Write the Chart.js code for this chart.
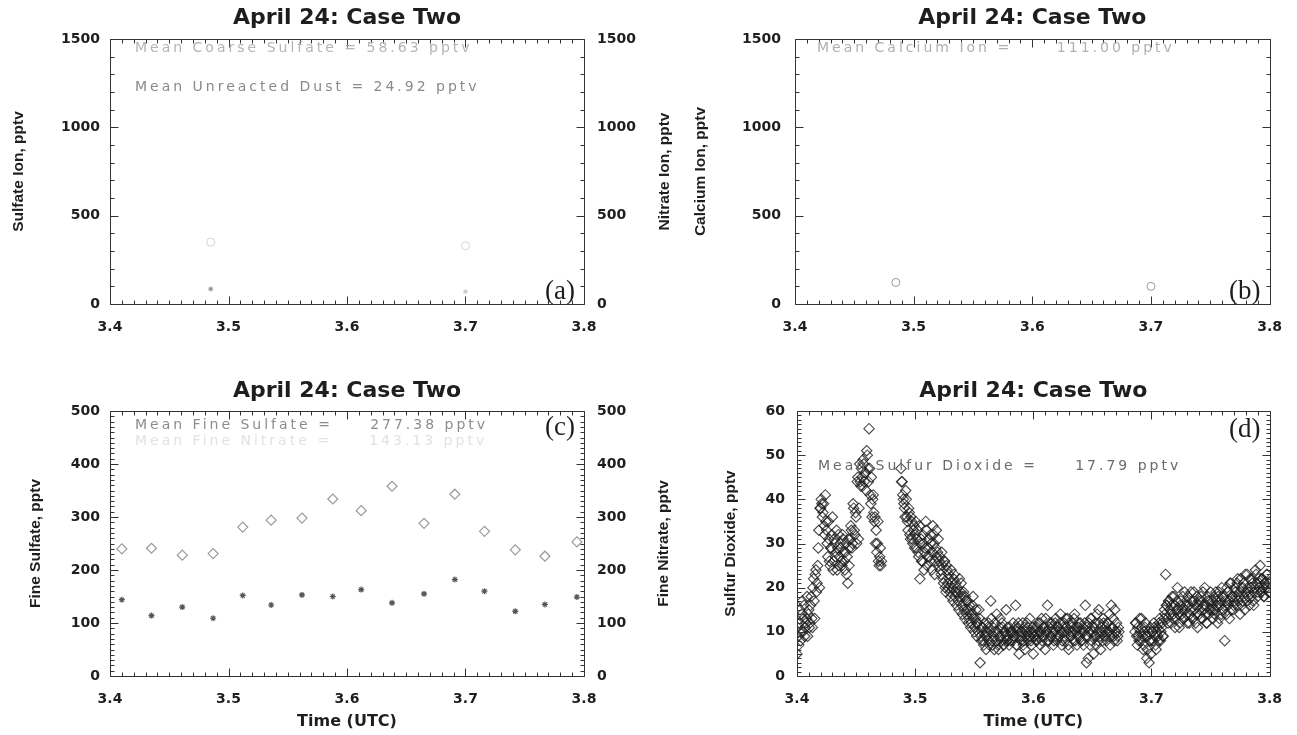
<!DOCTYPE html>
<html>
<head>
<meta charset="utf-8">
<title>April 24: Case Two</title>
<script src="https://cdn.jsdelivr.net/npm/chart.js@4.4.1/dist/chart.umd.min.js"></script>
<style>
  html, body { margin: 0; padding: 0; background: #fff; }
  #page { position: relative; width: 1297px; height: 735px; overflow: hidden; background: #fff; }
  canvas { position: absolute; }
</style>
</head>
<body>
<div id="page">
  <canvas id="chartA" width="690" height="360" style="left:0px;top:0px"></canvas>
  <canvas id="chartB" width="647" height="360" style="left:650px;top:0px"></canvas>
  <canvas id="chartC" width="690" height="375" style="left:0px;top:360px"></canvas>
  <canvas id="chartD" width="647" height="375" style="left:650px;top:360px"></canvas>
</div>
<script>
// coarse mode samples (panel a)
const coarseTimes = [3.485, 3.700];
const coarseSulfate = [350, 330];
const coarseNitrate = [85, 70];

// calcium (panel b)
const calciumTimes = [3.485, 3.700];
const calciumIon = [122, 100];

// fine mode samples (panel c)
const fineTimes = [3.410, 3.435, 3.461, 3.487, 3.512, 3.536, 3.562, 3.588, 3.612, 3.638, 3.665, 3.691, 3.716, 3.742, 3.767, 3.794];
const fineSulfate = [240, 241, 228, 231, 281, 294, 298, 334, 312, 358, 288, 343, 273, 238, 226, 253];
const fineNitrate = [144, 114, 130, 109, 152, 134, 153, 150, 163, 138, 155, 182, 160, 122, 135, 149];

// SO2: two interleaved reading sets, one per 0.001 h each,
// the second offset by half a step. null = no data
const so2Start = 3.400;
const so2Step = 0.001;
const so2ValuesA = [
  5, 9, 12, 8, 14, 10, 16, 11, 13, 9, 15,
  12, 18, 11, 22, 13, 24, 21,
  29, 20, 38, 39, 37, 34, 41,
  33, 27, 31, 25, 29, 36, 26, 30, 28, 24, 32, 27, 29, 25, 31, 26, 28, 23, 21, 25,
  31, 33, 30, 38, 32, 36, 44, 31, 48, 43,
  45, 49, 44, 46, 51, 47, 56, 41, 45, 40, 37,
  36, 33, 30, 26, 27, 25,
  null, null, null, null, null, null, null, null, null, null, null, null, null, null, null, null,
  47, 44, 40, 38, 42, 36, 33, 37, 31, 35, 30, 34, 32,
  29, 33, 27, 22, 31, 26, 30, 28, 35, 25, 29, 27, 32, 24, 34, 30, 26, 33, 28, 25,
  27, 23, 25, 21, 26, 19, 24, 20, 22, 18, 21, 17, 23, 19, 16, 20, 15, 18, 21, 14,
  19, 13, 17, 15, 12, 16, 11, 14, 18, 10, 13, 9, 12, 15, 3, 8, 11, 7, 10, 6,
  9, 12, 7, 17, 8, 11, 6, 10, 14, 7, 9, 13, 8, 11, 7, 10, 15, 8, 9, 11,
  8, 10, 12, 9, 16, 7, 11, 5, 10, 9, 12, 8, 6, 10, 11, 9, 13, 8, 10, 5,
  9, 11, 8, 12, 10, 7, 13, 9, 11, 6, 10, 16, 8, 12, 9, 11, 7, 10, 13, 8,
  11, 9, 14, 7, 10, 12, 8, 11, 13, 6, 10, 9, 12, 8, 14, 10, 7, 11, 9, 12,
  8, 11, 10, 16, 3, 9, 12, 7, 13, 10, 5, 11, 9, 14, 8, 12, 6, 10, 13, 9,
  11, 8, 12, 10, 7, 16, 11, 9, 15, 10, 8, 11,
  null, null, null, null, null, null, null, null, null, null, null, null, null,
  10, 12, 7, 9, 13, 8, 11, 6, 10, 12, 4, 9, 3, 11, 8,
  10, 12, 9, 6, 11, 8, 13, 10, 12, 9,
  15, 23, 16, 12, 17, 14, 16, 13, 18, 11, 15, 20, 14, 12, 17, 15, 13, 19, 16, 14,
  18, 12, 15, 17, 13, 19, 16, 14, 11, 17, 15, 18, 13, 16, 20, 14, 12, 17, 15, 19,
  16, 13, 18, 15, 17, 12, 19, 16, 14, 18, 15, 8, 17, 20, 16, 13, 21, 18, 15, 17,
  19, 16, 22, 18, 14, 20, 17, 21, 15, 19, 23, 18, 16, 20, 22, 17, 19, 24, 21, 18,
  20, 25, 19, 22, 18, 21, 20, 23, 19, 21
];
const so2ValuesB = [
  11, 7, 15, 10, 17, 13, 9, 12, 18, 14, 11,
  16, 13, 20, 17, 23, 19, 25,
  33, 38, 40, 36, 39, 32, 35,
  30, 35, 26, 29, 32, 24, 31, 27, 33, 29, 25, 30, 26, 32, 28, 24, 30, 27, 31, 29,
  34, 29, 39, 33, 37, 30, 45, 38, 44, 47,
  43, 48, 46, 42, 50, 44, 47, 39, 36, 41, 35,
  30, 28, 35, 25, 29, 26,
  null, null, null, null, null, null, null, null, null, null, null, null, null, null, null, null,
  44, 41, 39, 36, 40, 35, 38, 32, 36, 31, 33, 29, 35,
  31, 28, 34, 30, 26, 32, 24, 29, 33, 27, 31, 26, 30, 28, 32, 23, 29, 27, 31, 26,
  24, 28, 22, 26, 20, 25, 21, 23, 19, 24, 20, 22, 18, 21, 19, 17, 22, 19, 16, 18,
  15, 18, 14, 17, 13, 15, 12, 16, 13, 11, 15, 12, 10, 13, 9, 11, 8, 12, 9, 10,
  11, 8, 10, 13, 7, 9, 12, 8, 10, 6, 11, 9, 12, 7, 10, 9, 8, 11, 7, 10,
  10, 8, 9, 11, 7, 10, 12, 9, 8, 10, 7, 11, 9, 12, 8, 10, 9, 7, 11, 9,
  10, 8, 11, 9, 12, 10, 8, 11, 9, 13, 10, 8, 11, 9, 12, 10, 8, 12, 9, 11,
  9, 12, 10, 8, 11, 9, 13, 10, 7, 12, 9, 11, 10, 13, 8, 11, 9, 12, 10, 8,
  10, 7, 12, 9, 11, 4, 10, 13, 8, 11, 9, 12, 7, 10, 15, 9, 11, 8, 12, 10,
  9, 12, 10, 14, 9, 11, 13, 8, 10, 12, 9, 10,
  null, null, null, null, null, null, null, null, null, null, null, null, null,
  12, 9, 11, 8, 10, 13, 9, 7, 11, 9, 6, 10, 8, 5, 10,
  8, 11, 7, 10, 9, 12, 8, 11, 9, 13,
  14, 16, 13, 17, 15, 12, 18, 14, 16, 13, 17, 15, 11, 16, 14, 18, 13, 15, 17, 12,
  16, 14, 19, 13, 17, 15, 12, 18, 16, 14, 17, 13, 19, 15, 16, 12, 18, 14, 17, 15,
  17, 15, 14, 19, 16, 18, 13, 17, 20, 15, 18, 16, 14, 19, 17, 21, 15, 18, 16, 20,
  18, 21, 17, 19, 22, 16, 20, 18, 23, 17, 20, 19, 22, 18, 21, 16, 20, 23, 19, 22,
  21, 19, 22, 20, 18, 21, 23, 20, 19, 22
];

const FONT = "'Liberation Sans', Arial, sans-serif";
const WIDE = "'DejaVu Sans', Verdana, sans-serif";
const INK = '#1e1e1e';

function pairs(xs, ys) {
  return xs.map((x, i) => ({ x: x, y: ys[i] }));
}

const so2Points = [];
so2ValuesA.forEach((v, i) => {
  if (v !== null) so2Points.push({ x: so2Start + i * so2Step, y: v });
});
so2ValuesB.forEach((v, i) => {
  if (v !== null) so2Points.push({ x: so2Start + (i + 0.5) * so2Step, y: v });
});

// box frame with inward major/minor ticks on all four sides
const idlFrame = {
  id: 'idlFrame',
  afterDatasetsDraw(chart, args, opts) {
    const { ctx, chartArea: a, scales } = chart;
    const xs = scales.x, ys = scales.y;
    const L = Math.round(a.left) + 0.5, R = Math.round(a.right) + 0.5;
    const T = Math.round(a.top) + 0.5, B = Math.round(a.bottom) + 0.5;
    ctx.save();
    ctx.strokeStyle = '#333';
    ctx.lineWidth = 1;
    ctx.beginPath();
    ctx.rect(L, T, R - L, B - T);
    const nx = Math.round((xs.max - xs.min) / opts.xMinor);
    const xEvery = Math.round(opts.xMajor / opts.xMinor);
    for (let k = 0; k <= nx; k++) {
      const px = Math.round(xs.getPixelForValue(xs.min + k * opts.xMinor)) + 0.5;
      const len = k % xEvery === 0 ? 8 : 4;
      ctx.moveTo(px, B); ctx.lineTo(px, B - len);
      ctx.moveTo(px, T); ctx.lineTo(px, T + len);
    }
    const ny = Math.round((ys.max - ys.min) / opts.yMinor);
    const yEvery = Math.round(opts.yMajor / opts.yMinor);
    for (let k = 0; k <= ny; k++) {
      const py = Math.round(ys.getPixelForValue(ys.min + k * opts.yMinor)) + 0.5;
      const len = k % yEvery === 0 ? 8 : 4;
      ctx.moveTo(L, py); ctx.lineTo(L + len, py);
      ctx.moveTo(R, py); ctx.lineTo(R - len, py);
    }
    ctx.stroke();
    ctx.restore();
  }
};

// "Mean ..." notes, panel letter and the right-hand axis title
const notes = {
  id: 'notes',
  afterDraw(chart, args, opts) {
    const { ctx, chartArea: a } = chart;
    ctx.save();
    (opts.lines || []).forEach(l => {
      ctx.font = '14px ' + WIDE;
      ctx.letterSpacing = '3px';
      ctx.fillStyle = l.color;
      ctx.textAlign = 'left';
      ctx.textBaseline = 'middle';
      ctx.fillText(l.text, a.left + l.dx, a.top + l.dy);
    });
    ctx.letterSpacing = '0px';
    if (opts.tag) {
      ctx.font = "27px 'Liberation Serif', 'Times New Roman', serif";
      ctx.fillStyle = INK;
      ctx.textAlign = 'right';
      ctx.textBaseline = 'middle';
      const ty = opts.tag.fromBottom ? a.bottom - opts.tag.dy : a.top + opts.tag.dy;
      ctx.fillText(opts.tag.text, a.right - 9, ty);
    }
    if (opts.side) {
      ctx.translate(opts.side.x, (a.top + a.bottom) / 2);
      ctx.rotate(-Math.PI / 2);
      ctx.font = 'bold 15.5px ' + FONT;
      ctx.fillStyle = opts.side.color;
      ctx.textAlign = 'center';
      ctx.textBaseline = 'middle';
      ctx.fillText(opts.side.text, 0, 0);
    }
    ctx.restore();
  }
};

Chart.register(idlFrame, notes);

function xScale(height, showTitle) {
  return {
    type: 'linear',
    min: 3.4,
    max: 3.8,
    grid: { display: false, drawTicks: false },
    border: { display: false },
    ticks: {
      stepSize: 0.1,
      padding: 15,
      maxRotation: 0,
      autoSkip: false,
      color: INK,
      font: { family: WIDE, size: 14, weight: 'bold' },
      callback: v => Number(v).toFixed(1)
    },
    title: {
      display: showTitle,
      text: 'Time (UTC)',
      color: INK,
      font: { family: WIDE, size: 16, weight: 'bold' },
      padding: { top: 0, bottom: 4 }
    },
    afterFit: s => { s.height = height; }
  };
}

function yScale(max, step, width, pad, title, titlePad, position) {
  return {
    type: 'linear',
    position: position,
    min: 0,
    max: max,
    grid: { display: false, drawTicks: false },
    border: { display: false },
    ticks: {
      stepSize: step,
      padding: pad,
      color: INK,
      font: { family: WIDE, size: 14, weight: 'bold' },
      callback: v => String(v)
    },
    title: {
      display: !!title,
      text: title,
      color: INK,
      font: { family: FONT, size: 15.5, weight: 'bold' },
      padding: { top: titlePad, bottom: 0 }
    },
    afterFit: s => { s.width = width; }
  };
}

function titleOpts(top, bottom) {
  return {
    display: true,
    text: 'April 24: Case Two',
    fullSize: false,
    color: INK,
    font: { family: WIDE, size: 22, weight: 'bold' },
    padding: { top: top, bottom: bottom }
  };
}

const base = {
  responsive: false,
  animation: false,
  devicePixelRatio: 1,
  events: []
};

// (a) coarse sulfate / nitrate
new Chart(document.getElementById('chartA'), {
  type: 'scatter',
  data: {
    datasets: [
      {
        label: 'Coarse Sulfate',
        data: pairs(coarseTimes, coarseSulfate),
        pointStyle: 'circle', pointRadius: 4,
        pointBorderColor: '#d4d4d4', pointBackgroundColor: 'transparent', pointBorderWidth: 1
      },
      {
        label: 'Coarse Nitrate',
        data: pairs(coarseTimes, coarseNitrate),
        pointStyle: 'star', pointRadius: 2.5,
        pointBorderColor: ['#888', '#c8c8c8'], pointBorderWidth: 1
      }
    ]
  },
  options: Object.assign({}, base, {
    layout: { padding: 0 },
    scales: {
      x: xScale(56, false),
      y: yScale(1500, 500, 110, 10, 'Sulfate Ion, pptv', 9, 'left'),
      y1: yScale(1500, 500, 106, 13, '', 0, 'right')
    },
    plugins: {
      legend: { display: false },
      tooltip: { enabled: false },
      title: titleOpts(5, 7.6),
      idlFrame: { xMinor: 0.01, xMajor: 0.1, yMinor: 100, yMajor: 500 },
      notes: {
        lines: [
          { text: 'Mean Coarse Sulfate = 58.63 pptv', dx: 25, dy: 9, color: '#b4b4b4' },
          { text: 'Mean Unreacted Dust = 24.92 pptv', dx: 25, dy: 48, color: '#8a8a8a' }
        ],
        tag: { text: '(a)', dy: 12, fromBottom: true },
        side: { text: 'Nitrate Ion, pptv', x: 665, color: INK }
      }
    }
  })
});

// (b) calcium
new Chart(document.getElementById('chartB'), {
  type: 'scatter',
  data: {
    datasets: [
      {
        label: 'Calcium Ion',
        data: pairs(calciumTimes, calciumIon),
        pointStyle: 'circle', pointRadius: 4,
        pointBorderColor: '#999', pointBackgroundColor: 'transparent', pointBorderWidth: 1
      }
    ]
  },
  options: Object.assign({}, base, {
    layout: { padding: { left: 0, right: 25, top: 0, bottom: 0 } },
    scales: {
      x: xScale(56, false),
      y: yScale(1500, 500, 145, 14, 'Calcium Ion, pptv', 41, 'left')
    },
    plugins: {
      legend: { display: false },
      tooltip: { enabled: false },
      title: titleOpts(5, 7.6),
      idlFrame: { xMinor: 0.01, xMajor: 0.1, yMinor: 100, yMajor: 500 },
      notes: {
        lines: [
          { text: 'Mean Calcium Ion =      111.00 pptv', dx: 22, dy: 9, color: '#b0b0b0' }
        ],
        tag: { text: '(b)', dy: 12, fromBottom: true }
      }
    }
  })
});

// (c) fine sulfate / nitrate
new Chart(document.getElementById('chartC'), {
  type: 'scatter',
  data: {
    datasets: [
      {
        label: 'Fine Sulfate',
        data: pairs(fineTimes, fineSulfate),
        pointStyle: 'rectRot', pointRadius: 5,
        pointBorderColor: '#9a9a9a', pointBackgroundColor: 'transparent', pointBorderWidth: 1.2
      },
      {
        label: 'Fine Nitrate',
        data: pairs(fineTimes, fineNitrate),
        pointStyle: 'star', pointRadius: 3,
        pointBorderColor: '#555', pointBorderWidth: 1.2
      }
    ]
  },
  options: Object.assign({}, base, {
    layout: { padding: 0 },
    scales: {
      x: xScale(59, true),
      y: yScale(500, 100, 110, 10, 'Fine Sulfate, pptv', 26, 'left'),
      y1: yScale(500, 100, 106, 13, '', 0, 'right')
    },
    plugins: {
      legend: { display: false },
      tooltip: { enabled: false },
      title: titleOpts(17.8, 6.8),
      idlFrame: { xMinor: 0.01, xMajor: 0.1, yMinor: 10, yMajor: 100 },
      notes: {
        lines: [
          { text: 'Mean Fine Sulfate =     277.38 pptv', dx: 25, dy: 14, color: '#8c8c8c' },
          { text: 'Mean Fine Nitrate =     143.13 pptv', dx: 25, dy: 30, color: '#e2e2e2' }
        ],
        tag: { text: '(c)', dy: 17, fromBottom: false },
        side: { text: 'Fine Nitrate, pptv', x: 664, color: INK }
      }
    }
  })
});

// (d) sulfur dioxide
new Chart(document.getElementById('chartD'), {
  type: 'scatter',
  data: {
    datasets: [
      {
        label: 'Sulfur Dioxide',
        data: so2Points,
        pointStyle: 'rectRot', pointRadius: 5.2,
        pointBorderColor: 'rgba(30,30,30,0.8)', pointBackgroundColor: 'transparent', pointBorderWidth: 1.1
      }
    ]
  },
  options: Object.assign({}, base, {
    layout: { padding: { left: 0, right: 25, top: 0, bottom: 0 } },
    scales: {
      x: xScale(59, true),
      y: yScale(60, 10, 147, 12, 'Sulfur Dioxide, pptv', 71, 'left')
    },
    plugins: {
      legend: { display: false },
      tooltip: { enabled: false },
      title: titleOpts(17.8, 6.8),
      idlFrame: { xMinor: 0.01, xMajor: 0.1, yMinor: 1, yMajor: 10 },
      notes: {
        lines: [
          { text: 'Mean Sulfur Dioxide =     17.79 pptv', dx: 21, dy: 55, color: '#6a6a6a' }
        ],
        tag: { text: '(d)', dy: 19, fromBottom: false }
      }
    }
  })
});
</script>
</body>
</html>
